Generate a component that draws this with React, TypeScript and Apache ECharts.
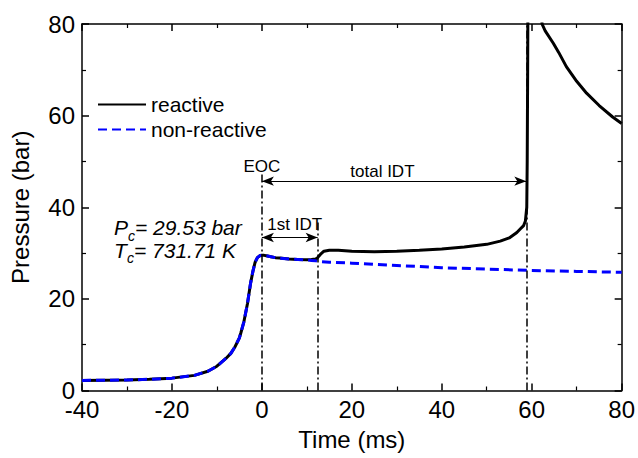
import React, { useEffect, useRef } from "react";
import * as echarts from "echarts";

// ---- data ----
const reactiveTime = [
  -40, -35, -30, -25, -20, -15, -12, -10, -8, -6.9, -6, -5, -4.7, -4, -3.2, -2.5, -2, -1.5, -1, -0.5, 0, 0.5, 1, 2, 3,
  4, 6, 8, 10, 11, 12, 12.4, 13, 13.8, 15, 17, 20, 25, 30, 35, 40, 45, 50, 53, 55, 56.7, 57.5, 58.2, 58.6, 58.9, 59.0,
  59.1, 59.2, 59.4, 60, 61, 62.3, 63, 64.8, 66, 67.7, 70, 72.2, 75, 78, 80,
];
const reactivePressure = [
  2.2, 2.25, 2.3, 2.45, 2.7, 3.3, 4.2, 5.3, 7.0, 8.1, 9.5, 11.5, 12.5, 15.0, 19.0, 23.5, 26.0, 28.0, 29.0, 29.4, 29.53,
  29.5, 29.4, 29.2, 29.0, 28.9, 28.7, 28.6, 28.55, 28.6, 28.7, 29.0, 29.7, 30.4, 30.6, 30.6, 30.4, 30.3, 30.4, 30.6,
  30.9, 31.3, 31.9, 32.6, 33.3, 34.5, 35.3, 36.0, 37.0, 40.0, 50.0, 70.0, 95.0, 120.0, 130.0, 110.0, 80.0, 78.5, 75.8,
  73.8, 70.7, 67.5, 64.9, 62.2, 59.7, 58.3,
];
const nonReactiveTime = [
  -40, -35, -30, -25, -20, -15, -12, -10, -8, -6.9, -6, -5, -4.7, -4, -3.2, -2.5, -2, -1.5, -1, -0.5, 0, 0.5, 1, 2, 3,
  4, 6, 8, 10, 11, 12, 12.4, 15, 20, 30, 40, 50, 60, 70, 80,
];
const nonReactivePressure = [
  2.2, 2.25, 2.3, 2.45, 2.7, 3.3, 4.2, 5.3, 7.0, 8.1, 9.5, 11.5, 12.5, 15.0, 19.0, 23.5, 26.0, 28.0, 29.0, 29.4, 29.53,
  29.5, 29.4, 29.2, 29.0, 28.9, 28.7, 28.6, 28.5, 28.4, 28.3, 28.2, 28.0, 27.8, 27.3, 26.8, 26.5, 26.2, 26.0, 25.8,
];
const seriesNames = ["reactive", "non-reactive"];
const eocTime = 0;
const firstIdtTime = 12.4;
const totalIdtTime = 58.8;
const compressionPressure = "29.53 bar";
const compressionTemperature = "731.71 K";

const FONT = "'Liberation Sans', Arial, Helvetica, sans-serif";

const pairs = (xs: number[], ys: number[]) => xs.map((x, i) => [x, ys[i]]);

const axisBase = {
  axisLine: { show: true, onZero: false, lineStyle: { color: "#000", width: 1.5 } },
  axisTick: { show: true, inside: true, length: 7, lineStyle: { color: "#000", width: 1.5 } },
  minorTick: { show: true, splitNumber: 2, length: 4, lineStyle: { color: "#000", width: 1.2 } },
  splitLine: { show: false },
  minorSplitLine: { show: false },
};

export default function App() {
  const ref = useRef<HTMLDivElement>(null);
  useEffect(() => {
    if (!ref.current) return;
    const chart = echarts.init(ref.current, null, { renderer: "svg" });
    const dashDot = { color: "#000", width: 1.5, type: [8, 3, 2, 3] };
    const arrowStyle = { color: "#000", width: 1, type: "solid" };
    chart.setOption({
      animation: false,
      backgroundColor: "#fff",
      grid: { left: 81, right: 16, top: 24, bottom: 67.5, containLabel: false },
      legend: {
        data: seriesNames,
        orient: "vertical",
        left: 97,
        top: 94,
        padding: 0,
        itemWidth: 48,
        itemHeight: 14,
        itemGap: 4,
        itemStyle: { opacity: 0 },
        textStyle: { fontSize: 21, fontFamily: FONT, color: "#000" },
      },
      xAxis: [
        {
          type: "value",
          position: "bottom",
          min: -40,
          max: 80,
          interval: 20,
          ...axisBase,
          axisLabel: { fontSize: 24, fontFamily: FONT, color: "#000", margin: 9, lineHeight: 20 },
          name: "Time (ms)",
          nameLocation: "middle",
          nameGap: 37,
          nameTextStyle: { fontSize: 24, fontFamily: FONT, color: "#000" },
        },
        {
          type: "value",
          position: "top",
          min: -40,
          max: 80,
          interval: 20,
          ...axisBase,
          axisLabel: { show: false },
        },
      ],
      yAxis: [
        {
          type: "value",
          position: "left",
          min: 0,
          max: 80,
          interval: 20,
          ...axisBase,
          axisLabel: { fontSize: 24, fontFamily: FONT, color: "#000", margin: 7, lineHeight: 16 },
          name: "Pressure (bar)",
          nameLocation: "middle",
          nameGap: 50,
          nameTextStyle: { fontSize: 24, fontFamily: FONT, color: "#000" },
        },
        {
          type: "value",
          position: "right",
          min: 0,
          max: 80,
          interval: 20,
          ...axisBase,
          axisLabel: { show: false },
        },
      ],
      series: [
        {
          name: seriesNames[0],
          type: "line",
          data: pairs(reactiveTime, reactivePressure),
          symbol: "none",
          showSymbol: false,
          clip: true,
          lineStyle: { color: "#000", width: 3 },
          itemStyle: { color: "#000" },
          z: 3,
        },
        {
          name: seriesNames[1],
          type: "line",
          data: pairs(nonReactiveTime, nonReactivePressure),
          symbol: "none",
          showSymbol: false,
          clip: true,
          lineStyle: { color: "#0000ff", width: 3, type: [9, 5] },
          itemStyle: { color: "#0000ff" },
          z: 4,
        },
        {
          name: "markers",
          type: "line",
          data: [],
          symbol: "none",
          z: 2,
          markLine: {
            silent: true,
            symbol: ["none", "none"],
            label: { show: false },
            data: [
              [{ coord: [eocTime, 0], lineStyle: dashDot }, { coord: [eocTime, 47.2] }],
              [{ coord: [firstIdtTime, 0], lineStyle: dashDot }, { coord: [firstIdtTime, 37.2] }],
              [{ coord: [totalIdtTime, 0], lineStyle: dashDot }, { coord: [totalIdtTime, 80] }],
              [
                { coord: [eocTime, 45.7], lineStyle: arrowStyle, symbol: "arrow", symbolSize: [7, 12] },
                { coord: [totalIdtTime, 45.7], symbol: "arrow", symbolSize: [7, 12] },
              ],
              [
                { coord: [eocTime, 33.4], lineStyle: arrowStyle, symbol: "arrow", symbolSize: [7, 12] },
                { coord: [firstIdtTime, 33.4], symbol: "arrow", symbolSize: [7, 12] },
              ],
            ],
          },
        },
      ],
    });

    const px = (x: number, y: number) => chart.convertToPixel({ xAxisIndex: 0, yAxisIndex: 0 }, [x, y]) as number[];
    const label = (text: string, p: number[], size: number, align: string, italic = false) => ({
      type: "text",
      x: p[0],
      y: p[1],
      silent: true,
      style: {
        text,
        fontSize: size,
        fontFamily: FONT,
        fontStyle: italic ? "italic" : "normal",
        fill: "#000",
        align,
        verticalAlign: "middle",
      },
    });
    const eoc = px(0, 49.0);
    const total = px(26.8, 47.7);
    const first = px(7.3, 36.2);
    const pc = px(-32.9, 35.5);
    const tc = px(-32.9, 30.6);
    chart.setOption({
      graphic: [
        label("EOC", eoc, 17, "center"),
        label("total IDT", total, 17, "center"),
        label("1st IDT", first, 17, "center"),
        label("P", pc, 21, "left", true),
        label("c", [pc[0] + 14, pc[1] + 8], 14, "left", true),
        label("= " + compressionPressure, [pc[0] + 21, pc[1]], 21, "left", true),
        label("T", tc, 21, "left", true),
        label("c", [tc[0] + 13, tc[1] + 8], 14, "left", true),
        label("= " + compressionTemperature, [tc[0] + 20, tc[1]], 21, "left", true),
      ],
    });
    return () => chart.dispose();
  }, []);
  return (
    <div
      ref={ref}
      style={{ position: "absolute", left: 0, top: 0, width: 638, height: 458, background: "#fff" }}
    />
  );
}
